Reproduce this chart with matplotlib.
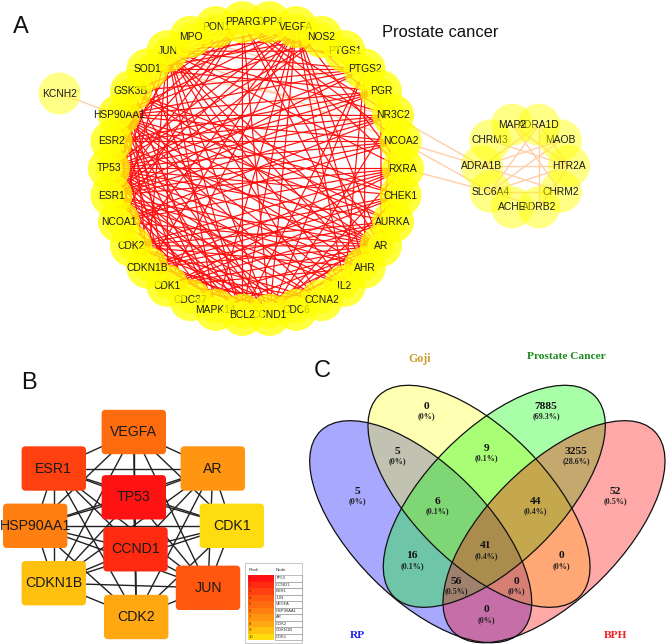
import math
from itertools import combinations
import matplotlib
matplotlib.use("Agg")
import matplotlib.pyplot as plt
from matplotlib.patches import Circle, Ellipse, FancyBboxPatch, Rectangle

plt.rcParams['font.family'] = ['Liberation Sans', 'DejaVu Sans']
SERIF = ['Liberation Serif', 'DejaVu Serif']

# ---------- Panel A data ----------
MAIN_NODES = ['PPARG','DPP4','VEGFA','NOS2','PTGS1','PTGS2','PGR','NR3C2','NCOA2','RXRA','CHEK1','AURKA',
              'AR','AHR','IL2','CCNA2','CDC6','CCND1','BCL2','MAPK14','CDC37','CDK1','CDKN1B','CDK2',
              'NCOA1','ESR1','TP53','ESR2','HSP90AA1','GSK3B','SOD1','JUN','MPO','PON1']
UNDER_FIRST = ['PON1','DPP4','VEGFA','PTGS1','IL2','CDC6','CCND1','CDC37','JUN','CDK2','PTGS2','MAPK14','CDK1']
SMALL_NODES = ['MAP2','ADRA1D','MAOB','HTR2A','CHRM2','ADRB2','ACHE','SLC6A4','ADRA1B','CHRM3']
SMALL_ORDER = ['MAOB','ADRA1D','CHRM3','MAP2','CHRM2','ADRB2','SLC6A4','ACHE','HTR2A','ADRA1B']

EDGES_TP53 = ['PPARG','VEGFA','NOS2','PTGS2','PGR','NR3C2','NCOA2','RXRA','CHEK1','AURKA','AR','AHR','IL2','CCNA2','CDC6','CCND1','BCL2','MAPK14','CDC37','CDK1','CDKN1B','CDK2','NCOA1','ESR1','ESR2','HSP90AA1','GSK3B','SOD1','JUN','MPO']
EDGES_ESR1 = ['PPARG','VEGFA','NOS2','PTGS2','PGR','NR3C2','NCOA2','RXRA','AR','AHR','IL2','CCNA2','CDC6','CCND1','BCL2','MAPK14','CDK1','CDKN1B','CDK2','NCOA1','ESR2','HSP90AA1','GSK3B','SOD1','JUN']
EDGES_HSP = ['PPARG','VEGFA','NOS2','PTGS2','PGR','NR3C2','NCOA2','CHEK1','AURKA','AR','AHR','IL2','CCNA2','CCND1','BCL2','MAPK14','CDC37','CDK1','CDKN1B','CDK2','NCOA1','ESR2','GSK3B','SOD1','JUN']
EDGES_JUN = ['PPARG','VEGFA','NOS2','PTGS1','PTGS2','NR3C2','RXRA','AR','AHR','IL2','CCNA2','CCND1','BCL2','MAPK14','CDK1','CDKN1B','NCOA1','GSK3B','SOD1']
EDGES_VEGFA = ['PPARG','NOS2','PTGS2','PGR','NR3C2','RXRA','AR','AHR','IL2','CCND1','BCL2','MAPK14','CDK1','CDKN1B','CDK2','GSK3B','SOD1','MPO']
EDGES_CCND1 = ['PPARG','PTGS2','NR3C2','RXRA','CHEK1','AURKA','AR','AHR','CCNA2','CDC6','BCL2','MAPK14','CDK1','CDKN1B','CDK2','NCOA1','GSK3B']
EDGES_AR = ['PPARG','PGR','NR3C2','NCOA2','RXRA','AURKA','AHR','CCNA2','BCL2','MAPK14','CDC37','CDK1','CDKN1B','CDK2','NCOA1','GSK3B']
EDGES_CDK1 = ['RXRA','CHEK1','AURKA','AHR','CCNA2','CDC6','BCL2','MAPK14','CDC37','CDKN1B','CDK2','NCOA1','GSK3B']
EDGES_CDK2 = ['RXRA','CHEK1','AURKA','AHR','CCNA2','CDC6','BCL2','MAPK14','CDC37','CDKN1B','NCOA1','GSK3B']
EDGES_CDKN1B = ['RXRA','CHEK1','AURKA','CCNA2','CDC6','BCL2','MAPK14','NCOA1','GSK3B']
EDGES_NCOA1 = ['PPARG','NR3C2','NCOA2','RXRA','ESR2']
EDGES_ESR2 = ['PPARG','PGR','NR3C2','NCOA2','AR']
EDGES_GSK3B = ['PPARG','PTGS2','CHEK1','AURKA','MAPK14']
EDGES_PTGS2 = ['PPARG','NOS2','PTGS1','SOD1','AHR','BCL2','IL2']
EDGES_PPARG = ['NOS2','NCOA2','RXRA','AHR','BCL2','SOD1','NR3C2']
EDGES_BCL2 = ['AHR','IL2','CDC6','MAPK14','SOD1']
EDGES_SOD1 = ['NOS2','MPO','PGR']
RED_EDGES = {'TP53': EDGES_TP53, 'ESR1': EDGES_ESR1, 'HSP90AA1': EDGES_HSP, 'JUN': EDGES_JUN, 'VEGFA': EDGES_VEGFA,
             'CCND1': EDGES_CCND1, 'AR': EDGES_AR, 'CDK1': EDGES_CDK1, 'CDK2': EDGES_CDK2, 'CDKN1B': EDGES_CDKN1B,
             'NCOA1': EDGES_NCOA1, 'ESR2': EDGES_ESR2, 'GSK3B': EDGES_GSK3B, 'PTGS2': EDGES_PTGS2,
             'PPARG': EDGES_PPARG, 'BCL2': EDGES_BCL2, 'SOD1': EDGES_SOD1}
PALE_EDGES = [('KCNH2','HSP90AA1'),('NR3C2','ADRA1B'),('NCOA2','ADRA1B'),('NCOA2','SLC6A4'),('RXRA','SLC6A4'),
              ('JUN','NCOA2'),('MPO','PGR'),('SOD1','NR3C2')]
SMALL_EDGES = [('ADRA1B','HTR2A'),('ADRA1B','ADRA1D'),('ADRA1B','MAOB'),('ADRA1B','CHRM2'),('ADRA1D','HTR2A'),
               ('ADRA1D','ADRB2'),('ADRA1D','SLC6A4'),('MAP2','HTR2A'),('MAP2','CHRM2'),('MAOB','SLC6A4'),
               ('HTR2A','SLC6A4'),('HTR2A','ADRB2'),('CHRM2','SLC6A4'),('CHRM3','HTR2A'),('SLC6A4','ADRB2')]

# ---------- Panel B data ----------
HUB_GENES = ['TP53','CCND1','ESR1','JUN','VEGFA','HSP90AA1','AR','CDK2','CDKN1B','CDK1']
HUB_COLORS = ['#ff1212','#ff2a10','#ff4010','#ff5610','#ff6c10','#ff8010','#ff9510','#ffa812','#ffc010','#ffdc10']

# ---------- Panel C data ----------
VENN_VALUES = ['0','7885','5','9','3255','5','6','44','52','16','41','0','56','0','0']
VENN_PCTS = ['(0%)','(69.3%)','(0%)','(0.1%)','(28.6%)','(0%)','(0.1%)','(0.4%)','(0.5%)','(0.1%)','(0.4%)','(0%)','(0.5%)','(0%)','(0%)']
VENN_SETS = ['RP','Goji','Prostate Cancer','BPH']

# ---------- layout (pixel space of the 666x644 figure) ----------
fig = plt.figure(figsize=(6.66, 6.44), dpi=100)
ax = fig.add_axes([0, 0, 1, 1])
ax.set_xlim(0, 666); ax.set_ylim(644, 0); ax.axis('off')

pos = {}
for i, n in enumerate(MAIN_NODES):
    a = math.radians(-5.294 + i * 360 / len(MAIN_NODES))
    pos[n] = (256 + 147 * math.sin(a), 168.5 - 147 * math.cos(a))
for i, n in enumerate(SMALL_NODES):
    a = math.radians(-18 + i * 36)
    pos[n] = (525.5 + 43.5 * math.sin(a), 166 - 43.5 * math.cos(a))
pos['KCNH2'] = (59.5, 93.5)

def seg(a, b, **kw):
    ax.plot([pos[a][0], pos[b][0]], [pos[a][1], pos[b][1]], solid_capstyle='butt', **kw)

for a, b in PALE_EDGES:
    seg(a, b, color='#ffcfa8', lw=1.0, zorder=1)
for a, b in SMALL_EDGES:
    seg(a, b, color='#ffcfa8', lw=1.0, zorder=1)
for hub, others in RED_EDGES.items():
    for o in others:
        seg(hub, o, color='#ff1010', lw=0.85, zorder=2)

R = 21
for n in MAIN_NODES:
    ax.add_patch(Circle(pos[n], 13.5, facecolor='#ffff40', edgecolor='none', alpha=0.85, zorder=3))

def node(n, z, alpha, fs=7.4):
    ax.add_patch(Circle(pos[n], R, facecolor='#ffff00', edgecolor='none', alpha=alpha, zorder=z))
    ax.text(pos[n][0], pos[n][1], n, ha='center', va='center', fontsize=fs, color='#1a1a1a', zorder=z + 0.5)

order = UNDER_FIRST + [n for n in MAIN_NODES if n not in UNDER_FIRST]
for k, n in enumerate(order):
    node(n, 5 + k, 0.76)
for k, n in enumerate(SMALL_ORDER):
    node(n, 5 + k, 0.48)
node('KCNH2', 5, 0.48)

ax.text(440, 32, 'Prostate cancer', ha='center', va='center', fontsize=11.9, color='#111111')
ax.text(21, 27, 'A', ha='center', va='center', fontsize=17, color='#111111')
ax.text(29, 383, 'B', ha='center', va='center', fontsize=17, color='#111111')
ax.text(322, 371, 'C', ha='center', va='center', fontsize=17, color='#111111')

# ---------- Panel B ----------
BOX_POS = {'VEGFA': (133.8, 432), 'ESR1': (53.8, 468.5), 'AR': (212.8, 468.5), 'TP53': (133.8, 497.3),
           'HSP90AA1': (35.2, 525.8), 'CDK1': (231.8, 525.8), 'CCND1': (135.5, 549.3), 'CDKN1B': (53.8, 583.2),
           'JUN': (208, 587.8), 'CDK2': (136.2, 617)}
for a, b in combinations(HUB_GENES, 2):
    ax.plot([BOX_POS[a][0], BOX_POS[b][0]], [BOX_POS[a][1], BOX_POS[b][1]], color='#222222', lw=1.0, zorder=1)
for g, c in zip(HUB_GENES, HUB_COLORS):
    x, y = BOX_POS[g]
    ax.add_patch(FancyBboxPatch((x - 32.2, y - 22.2), 64.4, 44.4, boxstyle='round,pad=0,rounding_size=4',
                                facecolor=c, edgecolor='none', zorder=3))
    ax.text(x, y, g, ha='center', va='center', fontsize=10.2, color='#1a1a1a', zorder=4)

# rank table
ax.add_patch(Rectangle((245, 563), 57, 79.5, facecolor='white', edgecolor='#cccccc', lw=0.8, zorder=3))
ax.text(249, 570, 'Rank', fontsize=3.2, va='center', color='#333333', zorder=5)
ax.text(276, 570, 'Node', fontsize=3.2, va='center', color='#333333', zorder=5)
for i, (g, c) in enumerate(zip(HUB_GENES, HUB_COLORS)):
    y = 575 + i * 6.5
    ax.add_patch(Rectangle((247.5, y), 26.5, 6.5, facecolor=c, edgecolor='none', zorder=4))
    ax.add_patch(Rectangle((274.5, y), 27, 6.5, facecolor='white', edgecolor='#888888', lw=0.4, zorder=4))
    ax.text(248.5, y + 3.2, str(i + 1), fontsize=3, va='center', color='#553300', zorder=5)
    ax.text(275.5, y + 3.2, g, fontsize=3, va='center', color='#333333', zorder=5)

# ---------- Panel C ----------
ELL = [((420.7, 531.7), 45, '#0000ff', 0.34), ((479, 496.3), 45, '#ffff00', 0.30),
       ((494.3, 496.3), -45, '#00ff00', 0.34), ((554, 531.7), -45, '#ff0000', 0.34)]
for k, (c, ang, col, al) in enumerate(ELL):
    ax.add_patch(Ellipse(c, 284, 134, angle=ang, facecolor=col, edgecolor='none', alpha=al, zorder=2 + k * 0.1))
for c, ang, col, al in ELL:
    ax.add_patch(Ellipse(c, 284, 134, angle=ang, facecolor='none', edgecolor='#111111', lw=0.9, zorder=3))

VENN_XY = [(426.7, 406.7), (546, 406.7), (397.3, 451.7), (486.7, 448.3), (576, 451.7), (357.7, 491.7),
           (437.7, 501.7), (535.3, 501.7), (615.7, 491.7), (412, 556), (486, 546), (561, 556),
           (456.7, 581.7), (516.3, 581.7), (486.3, 610)]
for (x, y), v, p in zip(VENN_XY, VENN_VALUES, VENN_PCTS):
    ax.text(x, y, v, ha='center', va='center', fontsize=8.2, fontweight='bold', family=SERIF, color='#111111', zorder=6)
    ax.text(x, y + 9.7, p, ha='center', va='center', fontsize=5.8, fontweight='bold', family=SERIF, color='#222222', zorder=6)

for s, xy, col, fs in zip(VENN_SETS, [(357.7, 635.3), (420, 359), (566, 356.7), (615.7, 635.3)],
                          ['#2222ee', '#c8a030', '#1a8a1a', '#ee2222'], [8.2, 8.6, 8.2, 8.2]):
    ax.text(xy[0], xy[1], s, ha='center', va='center', fontsize=fs, fontweight='bold', family=SERIF, color=col, zorder=6)

fig.savefig('out.png', dpi=100)
